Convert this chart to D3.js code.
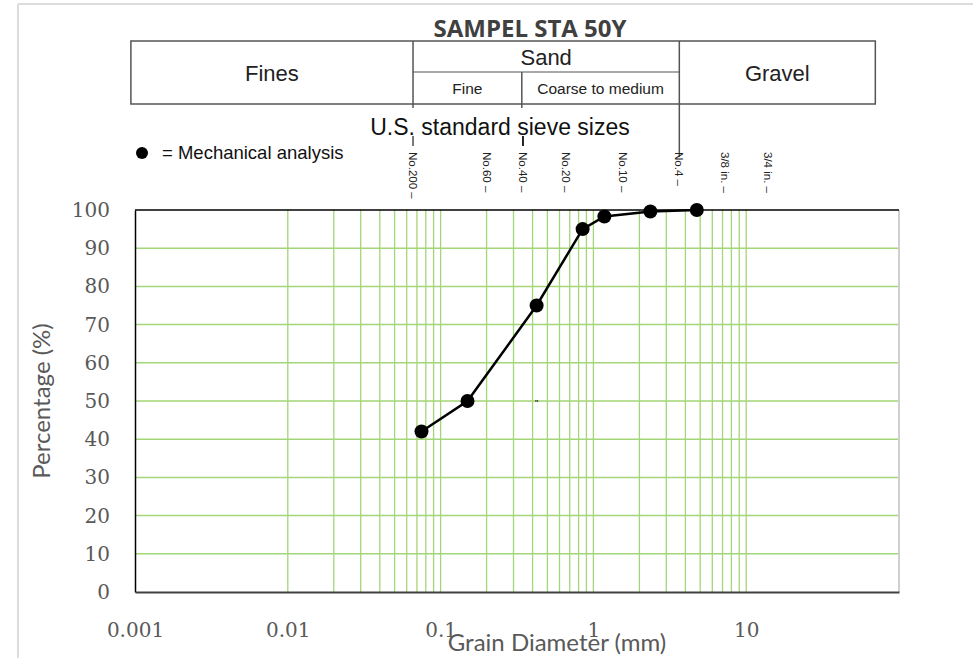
<!DOCTYPE html>
<html>
<head>
<meta charset="utf-8">
<script src="https://cdn.jsdelivr.net/npm/d3@7"></script>
<style>
  body { margin: 0; background: #fff; }
  svg { display: block; }
</style>
</head>
<body>
<figure id="grading" style="margin:0"></figure>
<script>
// grain size distribution
const diameters = [0.075, 0.15, 0.425, 0.85, 1.18, 2.36, 4.75];
const passing = [42, 50, 75, 95, 98.3, 99.6, 100];

const xTicks = [0.001, 0.01, 0.1, 1, 10];
const xTickLabels = ["0.001", "0.01", "0.1", "1", "10"];
const yTicks = [0, 10, 20, 30, 40, 50, 60, 70, 80, 90, 100];

// soil classes (upper bounds on the size axis) and sieves as placed on the sheet
const classNames = ["Fines", "Sand", "Gravel"];
const classBounds = [0.00094, 0.066, 3.65, 70];
const sandNames = ["Fine", "Coarse to medium"];
const sandBounds = [0.066, 0.34, 3.65];
const sieveNames = ["No.200", "No.60", "No.40", "No.20", "No.10", "No.4", "3/8 in.", "3/4 in."];
const sieveSizes = [0.066, 0.201, 0.346, 0.662, 1.56, 3.63, 7.27, 13.9];

class GradingChart {
  constructor() {
    this.width = 973;
    this.height = 660;
    this.left = 135;
    this.right = 899;
    this.top = 210;
    this.bottom = 592;
    this.grid = "#a3d676";
    this.textGrey = "#595959";
  }

  init() {
    this.svg = d3.select("figure#grading").append("svg")
      .attr("width", this.width)
      .attr("height", this.height);
    this.x = d3.scaleLog().domain([0.001, 100]).range([this.left, this.right]);
    this.y = d3.scaleLinear().domain([0, 100]).range([this.bottom, this.top]);
  }

  draw() {
    this.drawFrame();
    this.drawGrid();
    this.drawAxes();
    this.drawCurve();
    this.drawTable();
    this.drawSieves();
  }

  drawFrame() {
    const svg = this.svg;
    svg.append("line").attr("x1", 18).attr("x2", this.width).attr("y1", 4).attr("y2", 4)
      .attr("stroke", "#dcdcdc").attr("stroke-width", 2);
    svg.append("line").attr("x1", 18).attr("x2", 18).attr("y1", 4).attr("y2", 658)
      .attr("stroke", "#dcdcdc").attr("stroke-width", 2);
  }

  drawGrid() {
    const x = this.x, y = this.y;
    // minor log lines only between 0.01 and 10
    const vlines = x.ticks().filter((d) => d >= 0.0099 && d <= 10.01);
    this.svg.append("g").selectAll("line")
      .data(vlines).enter()
      .append("line")
      .attr("x1", (d) => x(d)).attr("x2", (d) => x(d))
      .attr("y1", this.top).attr("y2", this.bottom)
      .attr("stroke", this.grid).attr("stroke-width", 1.3);
    this.svg.append("g").selectAll("line")
      .data(yTicks.filter((d) => d > 0 && d < 100)).enter()
      .append("line")
      .attr("x1", this.left).attr("x2", this.right)
      .attr("y1", (d) => y(d)).attr("y2", (d) => y(d))
      .attr("stroke", this.grid).attr("stroke-width", 1.5);
  }

  drawAxes() {
    const svg = this.svg, x = this.x, y = this.y;
    // plot border
    svg.append("line").attr("x1", this.right).attr("x2", this.right)
      .attr("y1", this.top).attr("y2", this.bottom)
      .attr("stroke", "#d0d0d0").attr("stroke-width", 2);
    svg.append("line").attr("x1", this.left).attr("x2", this.right)
      .attr("y1", this.top).attr("y2", this.top)
      .attr("stroke", "#000").attr("stroke-width", 1.5);

    const yAxis = svg.append("g")
      .attr("transform", `translate(${this.left},0)`)
      .call(d3.axisLeft(y).tickValues(yTicks).tickSize(0).tickPadding(25));
    yAxis.select(".domain").attr("stroke", "#000").attr("stroke-width", 1.5);

    const xAxis = svg.append("g")
      .attr("transform", `translate(0,${this.bottom})`)
      .call(d3.axisBottom(x).tickValues(xTicks).tickSize(0).tickPadding(31)
        .tickFormat((d, i) => xTickLabels[i]));
    xAxis.select(".domain").attr("stroke", "#404040").attr("stroke-width", 2);

    svg.selectAll(".tick text")
      .attr("fill", this.textGrey)
      .style("font-family", "'DejaVu Serif', serif")
      .style("font-size", "20px");

    svg.append("text")
      .attr("transform", `translate(50,401) rotate(-90)`)
      .attr("text-anchor", "middle")
      .attr("fill", this.textGrey)
      .style("font-family", "Lato, sans-serif")
      .style("font-size", "24px")
      .text("Percentage (%)");

    svg.append("text")
      .attr("x", 557).attr("y", 651)
      .attr("text-anchor", "middle")
      .attr("fill", this.textGrey)
      .style("font-family", "Lato, sans-serif")
      .style("font-size", "24px")
      .text("Grain Diameter (mm)");
  }

  drawCurve() {
    const x = this.x, y = this.y;
    const pts = diameters.map((d, i) => [d, passing[i]]);
    this.svg.append("path")
      .datum(pts)
      .attr("fill", "none")
      .attr("stroke", "#000")
      .attr("stroke-width", 2.5)
      .attr("d", d3.line().x((d) => x(d[0])).y((d) => y(d[1])));
    this.svg.append("g").selectAll("circle")
      .data(pts).enter()
      .append("circle")
      .attr("cx", (d) => x(d[0])).attr("cy", (d) => y(d[1]))
      .attr("r", 7)
      .attr("fill", "#000");
    // stray mark on the sheet
    this.svg.append("text")
      .attr("x", x(0.425)).attr("y", y(50) + 5)
      .attr("text-anchor", "middle")
      .style("font-family", "Liberation Sans, sans-serif")
      .style("font-size", "9px")
      .text("\"");
  }

  drawTable() {
    const svg = this.svg, x = this.x;
    const top = 41, mid = 72, bot = 104;
    const stroke = "#555";
    const font = "'Liberation Sans', Arial, sans-serif";

    svg.append("text")
      .attr("x", 530).attr("y", 37)
      .attr("text-anchor", "middle")
      .attr("fill", "#404040")
      .style("font-family", "'Open Sans', sans-serif")
      .style("font-weight", "bold")
      .style("font-size", "24px")
      .text("SAMPEL STA 50Y");

    const x0 = x(classBounds[0]), x3 = x(classBounds[3]);
    svg.append("rect")
      .attr("x", x0).attr("y", top)
      .attr("width", x3 - x0).attr("height", bot - top)
      .attr("fill", "none").attr("stroke", stroke).attr("stroke-width", 1.5);

    // class dividers
    svg.append("line").attr("x1", x(classBounds[1])).attr("x2", x(classBounds[1]))
      .attr("y1", top).attr("y2", bot + 4).attr("stroke", stroke).attr("stroke-width", 1.5);
    svg.append("line").attr("x1", x(classBounds[2])).attr("x2", x(classBounds[2]))
      .attr("y1", top).attr("y2", 157).attr("stroke", stroke).attr("stroke-width", 1.5);
    svg.append("line").attr("x1", x(sandBounds[1])).attr("x2", x(sandBounds[1]))
      .attr("y1", mid).attr("y2", bot + 4).attr("stroke", stroke).attr("stroke-width", 1.5);
    svg.append("line").attr("x1", x(sandBounds[0])).attr("x2", x(sandBounds[2]))
      .attr("y1", mid).attr("y2", mid).attr("stroke", stroke).attr("stroke-width", 1.2);

    const classY = [73, 57, 73];
    classNames.forEach((name, i) => {
      svg.append("text")
        .attr("x", (x(classBounds[i]) + x(classBounds[i + 1])) / 2)
        .attr("y", classY[i]).attr("dy", "0.35em")
        .attr("text-anchor", "middle")
        .attr("fill", "#222")
        .style("font-family", font)
        .style("font-size", "22px")
        .text(name);
    });
    sandNames.forEach((name, i) => {
      svg.append("text")
        .attr("x", (x(sandBounds[i]) + x(sandBounds[i + 1])) / 2)
        .attr("y", 89).attr("dy", "0.35em")
        .attr("text-anchor", "middle")
        .attr("fill", "#222")
        .style("font-family", font)
        .style("font-size", "15.5px")
        .text(name);
    });

    svg.append("text")
      .attr("x", 500).attr("y", 127).attr("dy", "0.35em")
      .attr("text-anchor", "middle")
      .attr("fill", "#111")
      .style("font-family", font)
      .style("font-size", "23px")
      .text("U.S. standard sieve sizes");

    // legend
    svg.append("circle").attr("cx", 142).attr("cy", 153).attr("r", 6).attr("fill", "#000");
    svg.append("text")
      .attr("x", 162).attr("y", 153).attr("dy", "0.35em")
      .attr("fill", "#111")
      .style("font-family", font)
      .style("font-size", "18.5px")
      .text("= Mechanical analysis");
  }

  drawSieves() {
    const svg = this.svg, x = this.x;
    const g = svg.append("g").selectAll("g")
      .data(sieveSizes).enter()
      .append("g")
      .attr("transform", (d) => `translate(${x(d)},152) rotate(90)`);
    g.append("text")
      .attr("dy", "0.35em")
      .attr("fill", "#222")
      .style("font-family", "'Liberation Sans', Arial, sans-serif")
      .style("font-size", "11.5px")
      .text((d, i) => sieveNames[i] + " \u2013");
    // small ticks above No.200 and No.40
    [sieveSizes[0], sieveSizes[2]].forEach((d, i) => {
      svg.append("line")
        .attr("x1", x(d)).attr("x2", x(d))
        .attr("y1", 136).attr("y2", 146)
        .attr("stroke", "#222").attr("stroke-width", i === 1 ? 2 : 1.2);
    });
  }
}

const chart = new GradingChart();
chart.init();
chart.draw();
</script>
</body>
</html>
